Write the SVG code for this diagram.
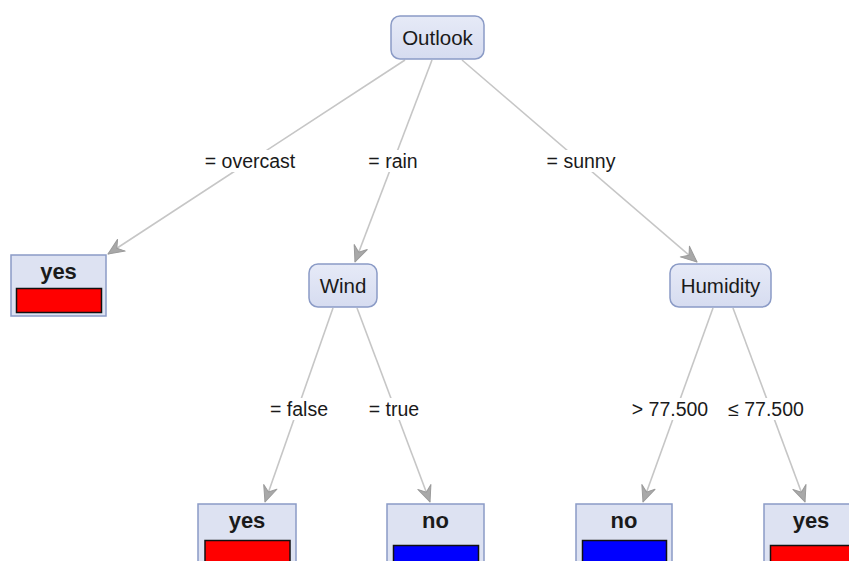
<svg xmlns="http://www.w3.org/2000/svg" width="849" height="561" viewBox="0 0 849 561">
  <defs>
    <marker id="arrow" markerUnits="userSpaceOnUse" markerWidth="22" markerHeight="18" viewBox="-18 -9 20 18" refX="0" refY="0" orient="auto">
      <path d="M0,0 L-16,-7 L-10.5,0 L-16,7 Z" fill="#a8a8a8" stroke="#9a9a9a" stroke-width="1" stroke-linejoin="round"/>
    </marker>
    <linearGradient id="nodeFill" x1="0" y1="0" x2="0" y2="1">
      <stop offset="0" stop-color="#e6eaf7"/>
      <stop offset="1" stop-color="#d6dcf0"/>
    </linearGradient>
  </defs>
  <style>
    .bg { fill: #ffffff; }
    .edge { stroke: #c6c6c6; stroke-width: 1.6; fill: none; marker-end: url(#arrow); }
    .inner { fill: url(#nodeFill); stroke: #8b9bc6; stroke-width: 1.5; }
    .leaf { fill: #dde2f2; stroke: #8b9bc6; stroke-width: 1.5; }
    .ntext { font-family: "Liberation Sans", Arial, sans-serif; font-size: 20.5px; fill: #1a1a1a; text-anchor: middle; }
    .ltext { font-family: "Liberation Sans", Arial, sans-serif; font-size: 22px; font-weight: bold; fill: #1a1a1a; text-anchor: middle; }
    .etext { font-family: "Liberation Sans", Arial, sans-serif; font-size: 19.5px; fill: #1a1a1a; text-anchor: middle; }
    .lblbg { fill: #ffffff; }
    .yesbar { fill: #ff0000; stroke: #111111; stroke-width: 1.5; }
    .nobar { fill: #0000ff; stroke: #111111; stroke-width: 1.5; }
  </style>
  <rect class="bg" x="0" y="0" width="849" height="561"/>

  <!-- connectors with their condition labels -->
  <g id="edges">
    <line class="edge" x1="405" y1="60" x2="108" y2="254"/>
    <line class="edge" x1="432" y1="60" x2="355" y2="262"/>
    <line class="edge" x1="462" y1="60" x2="697" y2="262"/>
    <line class="edge" x1="333" y1="308" x2="265" y2="502"/>
    <line class="edge" x1="357" y1="308" x2="430" y2="502"/>
    <line class="edge" x1="713" y1="308" x2="643" y2="502"/>
    <line class="edge" x1="733" y1="308" x2="805" y2="502"/>

    <rect class="lblbg" x="200" y="150" width="100" height="22"/>
    <text class="etext" x="250" y="168">= overcast</text>
    <rect class="lblbg" x="364" y="150" width="59" height="22"/>
    <text class="etext" x="393" y="168">= rain</text>
    <rect class="lblbg" x="542" y="150" width="78" height="22"/>
    <text class="etext" x="581" y="168">= sunny</text>

    <rect class="lblbg" x="266" y="398" width="66" height="22"/>
    <text class="etext" x="299" y="416">= false</text>
    <rect class="lblbg" x="365" y="398" width="58" height="22"/>
    <text class="etext" x="394" y="416">= true</text>
    <rect class="lblbg" x="629" y="398" width="82" height="22"/>
    <text class="etext" x="670" y="416">&gt; 77.500</text>
    <rect class="lblbg" x="718" y="398" width="96" height="22"/>
    <text class="etext" x="766" y="416">≤ 77.500</text>
  </g>

  <!-- split nodes -->
  <g id="outlook">
    <rect class="inner" x="391" y="16" width="93" height="43" rx="9" ry="9"/>
    <text class="ntext" x="437.5" y="44.5">Outlook</text>
  </g>
  <g id="wind">
    <rect class="inner" x="309" y="264" width="68" height="43" rx="9" ry="9"/>
    <text class="ntext" x="343" y="292.5">Wind</text>
  </g>
  <g id="humidity">
    <rect class="inner" x="670" y="264" width="101" height="43" rx="9" ry="9"/>
    <text class="ntext" x="720.5" y="292.5">Humidity</text>
  </g>

  <!-- leaves -->
  <g id="leaf-overcast">
    <rect class="leaf" x="11" y="255" width="95" height="61"/>
    <text class="ltext" x="58.5" y="279">yes</text>
    <rect class="yesbar" x="16.5" y="288.5" width="85" height="24"/>
  </g>
  <g id="leaf-rain-false">
    <rect class="leaf" x="198" y="504" width="98" height="70"/>
    <text class="ltext" x="247" y="528">yes</text>
    <rect class="yesbar" x="205" y="540.5" width="85" height="30"/>
  </g>
  <g id="leaf-rain-true">
    <rect class="leaf" x="387" y="504" width="97" height="70"/>
    <text class="ltext" x="435.5" y="528">no</text>
    <rect class="nobar" x="393.5" y="545.5" width="85" height="30"/>
  </g>
  <g id="leaf-sunny-high">
    <rect class="leaf" x="576" y="504" width="96" height="70"/>
    <text class="ltext" x="624" y="528">no</text>
    <rect class="nobar" x="582.5" y="540.5" width="84" height="30"/>
  </g>
  <g id="leaf-sunny-low">
    <rect class="leaf" x="764" y="504" width="100" height="70"/>
    <text class="ltext" x="811" y="528">yes</text>
    <rect class="yesbar" x="770.5" y="545.5" width="85" height="30"/>
  </g>
</svg>
